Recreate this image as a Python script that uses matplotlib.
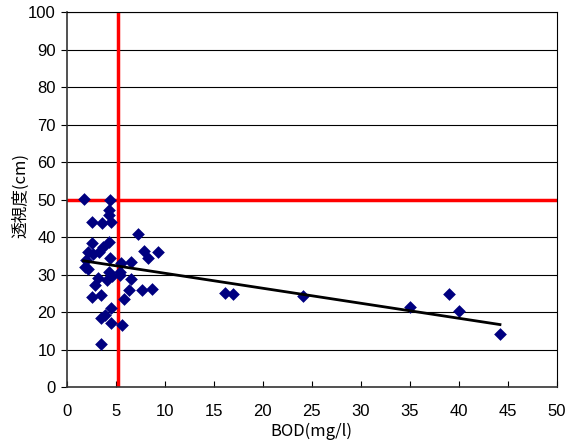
import numpy as np
import matplotlib
matplotlib.use("Agg")
import matplotlib.pyplot as plt

plt.rcParams['font.family'] = ['Noto Sans CJK JP', 'DejaVu Sans']

# BOD (mg/l) and transparency (cm) for each sampling point
bod = [1.7, 4.4, 4.3, 4.25, 2.55, 3.57, 4.5, 7.25, 2.6, 4.3, 3.7, 3.3,
       2.2, 2.7, 7.9, 8.3, 9.3, 1.95, 4.4, 5.55, 6.56, 1.87, 2.2, 4.25,
       5.45, 3.2, 2.9, 4.1, 6.56, 6.3, 7.65, 8.67, 2.6, 3.5, 5.8, 4.5,
       3.9, 3.5, 4.5, 5.6, 3.5, 5.45, 4.6, 16.1, 17.0, 24.1, 35.0, 39.0,
       40.0, 44.2]
transparency = [50.2, 50.0, 47.2, 45.9, 44.1, 43.8, 44.1, 40.7, 38.5, 38.7,
                37.4, 36.1, 36.1, 35.6, 36.3, 34.3, 36.1, 33.9, 34.3, 33.0,
                33.4, 32.1, 31.6, 30.8, 30.8, 29.0, 27.2, 28.5, 28.8, 25.9,
                25.9, 26.1, 24.1, 24.5, 23.6, 21.0, 19.2, 18.3, 17.2, 16.5,
                11.6, 29.9, 29.5, 25.1, 24.8, 24.3, 21.3, 24.8, 20.3, 14.1]

# Linear trend (transparency = slope * BOD + intercept)
trend_slope = -0.40
trend_intercept = 34.35

# Reference standards
bod_limit = 5.2
transparency_limit = 50

x_ticks = list(range(0, 51, 5))
y_ticks = list(range(0, 101, 10))

fig = plt.figure(figsize=(5.67, 4.48), dpi=100)
ax = fig.add_axes([0.118, 0.136, 0.864, 0.837])

ax.set_xlim(0, 50)
ax.set_ylim(0, 100)
ax.set_xticks(x_ticks)
ax.set_yticks(y_ticks)

for y in y_ticks[1:]:
    ax.axhline(y, color='black', linewidth=0.8, zorder=1)

ax.axvline(bod_limit, color='#ff0000', linewidth=2.5, zorder=2)
ax.axhline(transparency_limit, color='#ff0000', linewidth=2.5, zorder=2)

ax.scatter(bod, transparency, marker='D', s=42, color='#000080',
           linewidths=0, zorder=3)

xs = np.array([min(bod), max(bod)])
ax.plot(xs, trend_slope * xs + trend_intercept, color='black',
        linewidth=2, zorder=4)

for side in ('left', 'bottom'):
    ax.spines[side].set_color('#333333')
    ax.spines[side].set_linewidth(1.2)
for side in ('right', 'top'):
    ax.spines[side].set_color('black')
    ax.spines[side].set_linewidth(0.8)

ax.tick_params(axis='y', direction='out', length=4, labelsize=12, pad=4)
ax.tick_params(axis='x', direction='in', length=4, labelsize=12, pad=12)
for lbl in ax.get_xticklabels() + ax.get_yticklabels():
    lbl.set_family(['Liberation Sans', 'DejaVu Sans'])

ax.set_xlabel('BOD(mg/l)', fontsize=12, labelpad=3)
ax.set_ylabel('透視度(cm)', fontsize=12)
ax.yaxis.set_label_coords(-0.076, 0.51)

fig.savefig('out.png', dpi=100)
